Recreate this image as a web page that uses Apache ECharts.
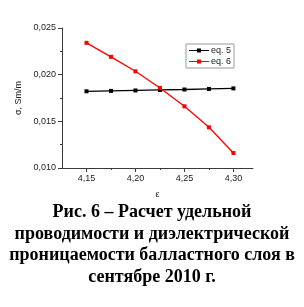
<!DOCTYPE html>
<html><head><meta charset="utf-8">
<script src="https://cdn.jsdelivr.net/npm/echarts@6/dist/echarts.min.js"></script>
<style>html,body{margin:0;padding:0;background:#fff}#c{width:304px;height:307px}</style>
</head><body><div id="c"></div>
<script>
const epsValues = [4.15, 4.175, 4.20, 4.225, 4.25, 4.275, 4.30];
const eq5 = [0.01822, 0.01826, 0.01831, 0.01836, 0.01841, 0.01847, 0.01853];
const eq6 = [0.02341, 0.02191, 0.02036, 0.01858, 0.01661, 0.01436, 0.01161];
const xMajorTicks = [4.15, 4.20, 4.25, 4.30];
const xMinorTicks = [4.175, 4.225, 4.275];
const seriesNames = ['eq. 5', 'eq. 6'];
const yLabel = 'σ, Sm/m';
const xLabel = 'ε';
const caption = 'Рис. 6 – Расчет удельной\nпроводимости и диэлектрической\nпроницаемости балластного слоя в\nсентябре 2010 г.';

const chart = echarts.init(document.getElementById('c'), null, {renderer: 'canvas'});
const axisColor = '#3a3a3a';
const tickFont = {fontFamily: 'Liberation Sans', fontSize: 9, color: '#222'};
chart.setOption({
  animation: false,
  grid: {left: 62, top: 28, width: 191, height: 140},
  xAxis: [{
    type: 'value', min: 4.125, max: 4.32, gridIndex: 0,
    axisLine: {lineStyle: {color: axisColor, width: 1}},
    axisTick: {customValues: xMajorTicks, length: 4, inside: false, lineStyle: {color: axisColor}},
    axisLabel: Object.assign({customValues: xMajorTicks, margin: 6, formatter: v => v.toFixed(2).replace('.', ',')}, tickFont),
    splitLine: {show: false},
    name: xLabel, nameLocation: 'middle', nameGap: 22,
    nameTextStyle: {fontFamily: 'Liberation Sans', fontSize: 9, color: '#222'}
  }, {
    type: 'value', min: 4.125, max: 4.32, gridIndex: 0, position: 'bottom',
    axisLine: {show: false},
    axisTick: {customValues: xMinorTicks, length: 2, lineStyle: {color: axisColor}},
    axisLabel: {show: false},
    splitLine: {show: false}
  }],
  yAxis: {
    type: 'value', min: 0.010, max: 0.025, interval: 0.005,
    axisLine: {show: true, lineStyle: {color: axisColor, width: 1}},
    axisTick: {show: true, length: 4, lineStyle: {color: axisColor}},
    minorTick: {show: true, splitNumber: 2, length: 2, lineStyle: {color: axisColor}},
    axisLabel: Object.assign({margin: 6, formatter: v => v.toFixed(3).replace('.', ',')}, tickFont),
    splitLine: {show: false},
    name: yLabel, nameLocation: 'middle', nameGap: 37, nameRotate: 90,
    nameTextStyle: {fontFamily: 'Liberation Sans', fontSize: 9, color: '#222'}
  },
  legend: {
    right: 304 - 234, top: 44, orient: 'vertical',
    data: seriesNames,
    itemWidth: 20, itemHeight: 4, itemGap: 2,
    padding: [2, 3, 2, 3],
    borderColor: '#999', borderWidth: 1,
    textStyle: {fontFamily: 'Liberation Sans', fontSize: 9, color: '#222', padding: [0, 0, 0, -3]},
    icon: 'path://M0,1.5 L20,1.5 L20,2.5 L0,2.5 Z M8,0 L12,0 L12,4 L8,4 Z'
  },
  series: [
    {name: seriesNames[0], type: 'line', data: epsValues.map((x, i) => [x, eq5[i]]),
      color: '#000', symbol: 'rect', symbolSize: 4, lineStyle: {width: 1.3, color: '#000'}, itemStyle: {color: '#000'}},
    {name: seriesNames[1], type: 'line', data: epsValues.map((x, i) => [x, eq6[i]]),
      color: '#ff0000', symbol: 'rect', symbolSize: 4, lineStyle: {width: 1.3, color: '#ff0000'}, itemStyle: {color: '#ff0000'}}
  ],
  graphic: [{
    type: 'text', x: 152, y: 202,
    style: {text: caption, textAlign: 'center', fontFamily: 'Liberation Serif', fontWeight: 'bold', fontSize: 18, lineHeight: 21.5, fill: '#000'}
  }]
});
</script></body></html>
